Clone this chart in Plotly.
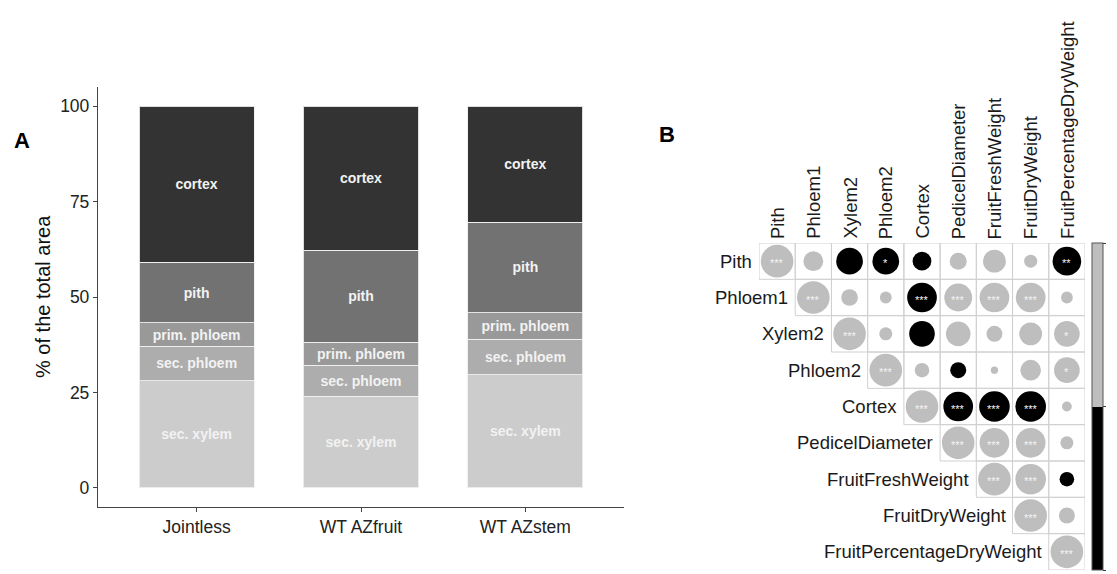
import numpy as np
import plotly.graph_objects as go

# ---------------- Panel A data ----------------
groups = ["Jointless", "WT AZfruit", "WT AZstem"]
tissues = ["sec. xylem", "sec. phloem", "prim. phloem", "pith", "cortex"]
sec_xylem = [28.1, 24.0, 29.7]
sec_phloem = [9.0, 8.1, 9.3]
prim_phloem = [6.1, 6.1, 6.9]
pith = [15.9, 24.0, 23.7]
cortex = [40.9, 37.8, 30.4]
tissue_values = [sec_xylem, sec_phloem, prim_phloem, pith, cortex]
tissue_colors = ["#cccccc", "#adadad", "#999999", "#727272", "#333333"]
y_ticks = [0, 25, 50, 75, 100]

# ---------------- Panel B data ----------------
variables = ["Pith", "Phloem1", "Xylem2", "Phloem2", "Cortex", "PedicelDiameter",
             "FruitFreshWeight", "FruitDryWeight", "FruitPercentageDryWeight"]
corr_rows = [
    [1.00, 0.37, -0.67, -0.67, -0.33, 0.27, 0.49, 0.16, -0.77],
    [1.00, 0.26, 0.13, -0.83, 0.73, 0.83, 0.83, 0.13],
    [1.00, 0.16, -0.62, 0.57, 0.24, 0.49, 0.62],
    [1.00, 0.20, -0.24, 0.05, 0.40, 0.62],
    [1.00, -0.83, -0.88, -0.88, 0.09],
    [1.00, 0.83, 0.83, 0.16],
    [1.00, 0.88, -0.20],
    [1.00, 0.24],
    [1.00],
]
signif_rows = [
    ["***", "", "", "*", "", "", "", "", "**"],
    ["***", "", "", "***", "***", "***", "***", ""],
    ["***", "", "", "", "", "", "*"],
    ["***", "", "", "", "", "*"],
    ["***", "***", "***", "***", ""],
    ["***", "***", "***", ""],
    ["***", "***", ""],
    ["***", ""],
    ["***"],
]
colorbar_ticks = [-1, 0, 1]

WIN_W, WIN_H = 1117, 574
OFF = 8  # default page body margin
W, H = WIN_W - OFF, WIN_H - OFF
FONT = "Liberation Sans, Arial, Helvetica, sans-serif"

# layout geometry (window pixels)
A_left, A_right, A_top, A_bottom = 98, 624, 87, 507
B_left, B_right, B_top, B_bottom = 759, 1085, 243, 570

def px_x(v):
    return (v - OFF) / W

def px_y(v):
    return 1 - (v - OFF) / H

fig = go.Figure()

# ---- Panel A bars ----
for name, vals, col in zip(tissues, tissue_values, tissue_colors):
    fig.add_trace(go.Bar(
        x=groups, y=vals, name=name, width=0.7,
        marker=dict(color=col, line=dict(color="rgba(240,240,240,0.9)", width=1)),
        text=[name] * len(vals), texttemplate="<b>%{text}</b>",
        textposition="inside", insidetextanchor="middle", textangle=0,
        textfont=dict(family=FONT, size=14, color="#f2f2f2"),
        xaxis="x", yaxis="y", hoverinfo="skip", showlegend=False,
    ))

# ---- Panel B circles ----
n = len(variables)
cell_px = (B_right - B_left) / n
xs, ys, rs, sizes = [], [], [], []
for i, row in enumerate(corr_rows):
    for k, r in enumerate(row):
        j = i + k
        xs.append(j)
        ys.append(i)
        rs.append(r)
        sizes.append(0.9 * cell_px * np.sqrt(abs(r)))

# grid cells
for i in range(n):
    for j in range(i, n):
        fig.add_shape(type="rect", xref="x2", yref="y2",
                      x0=j - 0.5, x1=j + 0.5, y0=i - 0.5, y1=i + 0.5,
                      line=dict(color="#d0d0d0", width=1), fillcolor="rgba(0,0,0,0)",
                      layer="below")

fig.add_trace(go.Scatter(
    x=xs, y=ys, mode="markers", xaxis="x2", yaxis="y2",
    marker=dict(size=sizes, sizemode="diameter", color=rs, cmin=-1, cmax=1,
                opacity=1,
                colorscale=[[0, "#000000"], [0.5, "#000000"], [0.5, "#bebebe"], [1, "#bebebe"]],
                line=dict(width=0),
                showscale=True,
                colorbar=dict(
                    thickness=11, thicknessmode="pixels",
                    len=B_bottom - B_top, lenmode="pixels",
                    x=px_x(1092), xanchor="left", xpad=0,
                    y=px_y((B_top + B_bottom) / 2), yanchor="middle", ypad=0,
                    outlinecolor="#555555", outlinewidth=1,
                    tickvals=colorbar_ticks, ticktext=[str(t) for t in colorbar_ticks],
                    ticks="outside", ticklen=3, tickcolor="#333",
                    tickfont=dict(family=FONT, size=18, color="#222"),
                )),
    hoverinfo="skip", showlegend=False,
))

annotations = []
# stars
for i, row in enumerate(signif_rows):
    for k, s in enumerate(row):
        if s:
            annotations.append(dict(
                x=i + k, y=i, xref="x2", yref="y2", text=s, showarrow=False,
                font=dict(family=FONT, size=11, color="#f4f4f4"), yshift=-2))

# row labels
for i, v in enumerate(variables):
    annotations.append(dict(
        x=i - 0.5, y=i, xref="x2", yref="y2", text=v, showarrow=False,
        xanchor="right", yanchor="middle", xshift=-5,
        font=dict(family=FONT, size=18.5, color="#1a1a1a")))
# column labels
for j, v in enumerate(variables):
    annotations.append(dict(
        x=j, y=-0.5, xref="x2", yref="y2", text=v, showarrow=False,
        textangle=-90, xanchor="center", yanchor="bottom", yshift=2,
        font=dict(family=FONT, size=18.5, color="#1a1a1a")))

# Y title for panel A
annotations.append(dict(
    x=px_x(43), y=px_y((A_top + A_bottom) / 2), xref="paper", yref="paper",
    text="% of the total area", textangle=-90, showarrow=False,
    xanchor="center", yanchor="middle",
    font=dict(family=FONT, size=20, color="#111")))
# panel letters
annotations.append(dict(x=px_x(22), y=px_y(140), xref="paper", yref="paper",
                        text="<b>A</b>", showarrow=False, xanchor="center", yanchor="middle",
                        font=dict(family=FONT, size=22, color="#000")))
annotations.append(dict(x=px_x(667), y=px_y(134), xref="paper", yref="paper",
                        text="<b>B</b>", showarrow=False, xanchor="center", yanchor="middle",
                        font=dict(family=FONT, size=22, color="#000")))

fig.update_layout(
    width=W, height=H,
    margin=dict(l=0, r=0, t=0, b=0, autoexpand=False),
    paper_bgcolor="white", plot_bgcolor="white",
    barmode="stack", bargap=0.3,
    showlegend=False,
    xaxis=dict(domain=[px_x(A_left), px_x(A_right)], range=[-0.6, 2.6],
               showline=True, linecolor="#444", linewidth=1.3,
               ticks="outside", ticklen=4, tickcolor="#444", tickwidth=1.2,
               showgrid=False, zeroline=False, automargin=False,
               tickfont=dict(family=FONT, size=17.5, color="#222"), fixedrange=True),
    yaxis=dict(domain=[px_y(A_bottom), px_y(A_top)], range=[-5, 105],
               tickvals=y_ticks, showline=True, linecolor="#444", linewidth=1.3,
               ticks="outside", ticklen=4, tickcolor="#444", tickwidth=1.2,
               showgrid=False, zeroline=False, automargin=False,
               tickfont=dict(family=FONT, size=17.5, color="#222"), fixedrange=True),
    xaxis2=dict(domain=[px_x(B_left), px_x(B_right)], range=[-0.5, n - 0.5],
                showgrid=False, zeroline=False, showticklabels=False, showline=False,
                fixedrange=True),
    yaxis2=dict(domain=[px_y(B_bottom), px_y(B_top)], range=[n - 0.5, -0.5],
                showgrid=False, zeroline=False, showticklabels=False, showline=False,
                fixedrange=True),
    annotations=annotations,
)

fig.write_html("out.html")
